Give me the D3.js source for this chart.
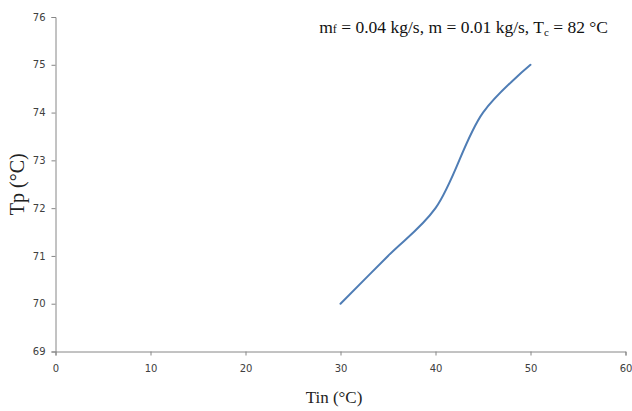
<!DOCTYPE html>
<html>
<head>
<meta charset="utf-8">
<script src="https://cdn.jsdelivr.net/npm/d3@7"></script>
<style>
  html, body { margin: 0; padding: 0; background: #fff; }
  svg { display: block; }
</style>
</head>
<body>
<svg id="chart" width="632" height="411"></svg>
<script>
const tinValues = [30, 35, 40, 45, 50];
const tpValues = [70, 71, 72, 74, 75];
const xTicks = [0, 10, 20, 30, 40, 50, 60];
const yTicks = [69, 70, 71, 72, 73, 74, 75, 76];

const svg = d3.select("#chart");
const margin = { left: 55.5, right: 632 - 625.5, top: 17, bottom: 411 - 351.5 };
const W = 632, H = 411;

const x = d3.scaleLinear().domain([0, 60]).range([margin.left, W - margin.right]);
const y = d3.scaleLinear().domain([69, 76]).range([H - margin.bottom, margin.top]);

const axisColor = "#868686";
const tickTextColor = "#404040";

// X axis
const gx = svg.append("g")
  .attr("transform", `translate(0,${y(69)})`)
  .call(d3.axisBottom(x).tickValues(xTicks).tickSize(4).tickPadding(9).tickFormat(d3.format("d")));
// Y axis
const gy = svg.append("g")
  .attr("transform", `translate(${x(0)},0)`)
  .call(d3.axisLeft(y).tickValues(yTicks).tickSize(4).tickPadding(6).tickFormat(d3.format("d")));

[gx, gy].forEach(g => {
  g.select(".domain").attr("stroke", axisColor).attr("stroke-width", 1);
  g.selectAll(".tick line").attr("stroke", axisColor);
  g.selectAll(".tick text")
    .attr("fill", tickTextColor)
    .style("font-family", "'DejaVu Sans', sans-serif")
    .style("font-size", "10px");
});

// Line
const line = d3.line()
  .x((d, i) => x(tinValues[i]))
  .y(d => y(d))
  .curve(d3.curveCatmullRom.alpha(0.5));

svg.append("path")
  .datum(tpValues)
  .attr("fill", "none")
  .attr("stroke", "#4f7db5")
  .attr("stroke-width", 2)
  .attr("stroke-linecap", "round")
  .attr("d", line);

// Axis titles
svg.append("text")
  .attr("x", 334)
  .attr("y", 403)
  .attr("text-anchor", "middle")
  .style("font-family", "'Liberation Serif', 'Times New Roman', serif")
  .style("font-size", "17px")
  .attr("fill", "#222")
  .text("Tin (°C)");

svg.append("text")
  .attr("transform", `translate(24,${(y(69) + y(76)) / 2}) rotate(-90)`)
  .attr("text-anchor", "middle")
  .style("font-family", "'Liberation Serif', 'Times New Roman', serif")
  .style("font-size", "20px")
  .attr("fill", "#222")
  .text("Tp (°C)");

// Annotation
const ann = svg.append("text")
  .attr("x", 608)
  .attr("y", 33)
  .attr("text-anchor", "end")
  .style("font-family", "'Liberation Serif', 'Times New Roman', serif")
  .style("font-size", "17.5px")
  .attr("fill", "#111");
ann.append("tspan").text("m");
ann.append("tspan").style("font-size", "12px").text("f");
ann.append("tspan").text(" = 0.04 kg/s, m = 0.01 kg/s, T");
ann.append("tspan").attr("dy", 3).style("font-size", "11px").text("c");
ann.append("tspan").attr("dy", -3).text(" = 82 °C");
</script>
</body>
</html>
